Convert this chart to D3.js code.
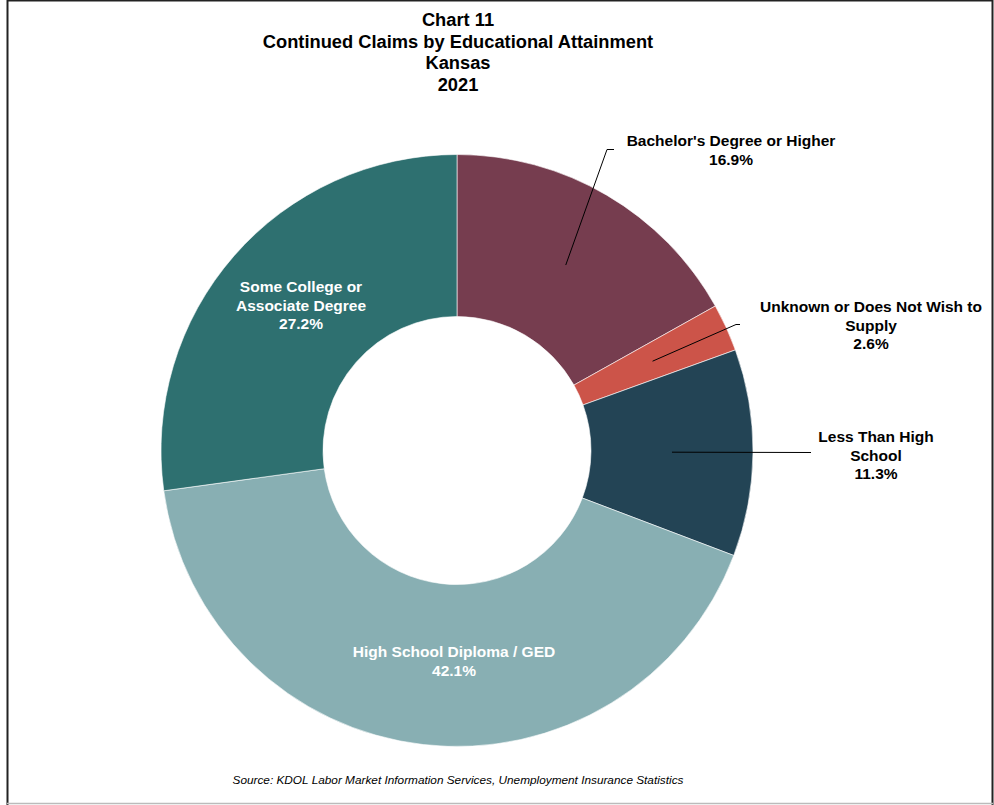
<!DOCTYPE html>
<html>
<head>
<meta charset="utf-8">
<script src="https://cdn.jsdelivr.net/npm/d3@7"></script>
<style>
  html, body { margin: 0; padding: 0; background: #fff; }
  svg { display: block; font-family: "Liberation Sans", Arial, sans-serif; }
</style>
</head>
<body>
<svg id="chart" width="994" height="805"></svg>
<script>
// Continued claims by educational attainment, Kansas 2021 (percent of total)
const categories = [
  "Bachelor's Degree or Higher",
  "Unknown or Does Not Wish to Supply",
  "Less Than High School",
  "High School Diploma / GED",
  "Some College or Associate Degree"
];
const shares = [16.9, 2.6, 11.3, 42.1, 27.2];
const labelLines = [
  ["Bachelor's Degree or Higher"],
  ["Unknown or Does Not Wish to", "Supply"],
  ["Less Than High", "School"],
  ["High School Diploma / GED"],
  ["Some College or", "Associate Degree"]
];
const colors = ["#763D4F", "#CC5449", "#234455", "#88AFB3", "#2E7070"];
const titleLines = ["Chart 11", "Continued Claims by Educational Attainment", "Kansas", "2021"];
const sourceText = "Source: KDOL Labor Market Information Services, Unemployment Insurance Statistics";

const svg = d3.select("#chart");

// frame
svg.append("line").attr("x1", 7).attr("y1", 0.5).attr("x2", 993).attr("y2", 0.5)
  .attr("stroke", "#222").attr("stroke-width", 2);
svg.append("line").attr("x1", 7.5).attr("y1", 0).attr("x2", 7.5).attr("y2", 805)
  .attr("stroke", "#222").attr("stroke-width", 2);
svg.append("line").attr("x1", 992.5).attr("y1", 0).attr("x2", 992.5).attr("y2", 805)
  .attr("stroke", "#222").attr("stroke-width", 2);
svg.append("line").attr("x1", 7).attr("y1", 803.5).attr("x2", 993).attr("y2", 803.5)
  .attr("stroke", "#bbb").attr("stroke-width", 1.5);

// title
svg.append("text")
  .attr("x", 458).attr("y", 26)
  .attr("text-anchor", "middle")
  .style("font-size", "18.3px").style("font-weight", "bold").attr("fill", "#000")
  .selectAll("tspan").data(titleLines).join("tspan")
  .attr("x", 458).attr("dy", (d, i) => i === 0 ? 0 : 21.7)
  .text(d => d);

// donut
const cx = 457, cy = 450.5, outerR = 296, innerR = 134;
const data = categories.map((c, i) => ({ category: c, value: shares[i], i }));
const pie = d3.pie().value(d => d.value).sort(null);
const arcs = pie(data);
const arc = d3.arc().innerRadius(innerR).outerRadius(outerR);

const g = svg.append("g").attr("transform", `translate(${cx},${cy})`);
g.selectAll("path.slice").data(arcs).join("path")
  .attr("class", "slice")
  .attr("d", arc)
  .attr("fill", d => colors[d.data.i])
  .attr("stroke", "#fff").attr("stroke-width", 0.6);

const fmt = v => v.toFixed(1) + "%";
const lineH = 18.7;
const labelSize = "15.5px";

// point on the ring at a given radius and angle (d3 angles measured clockwise from top)
const polar = (r, a) => [Math.sin(a) * r, -Math.cos(a) * r];

// inside labels (white)
const inside = [
  { i: 4, x: -156, y: -158.5 },
  { i: 3, x: -3, y: 206.5 }
];
inside.forEach(o => {
  const lines = labelLines[o.i].concat([fmt(shares[o.i])]);
  const t = g.append("text").attr("text-anchor", "middle")
    .style("font-size", labelSize).style("font-weight", "bold").attr("fill", "#fff");
  t.selectAll("tspan").data(lines).join("tspan")
    .attr("x", o.x).attr("y", (d, k) => o.y + k * lineH).text(d => d);
});

// outside labels with leader lines
const outside = [
  { i: 0, r: 215, tx: 274, ty: -304.5, elbow: [150, -301], end: [157, -301] },
  { i: 1, r: 215, tx: 414, ty: -138.5, elbow: [279, -126], end: [283, -126] },
  { i: 2, r: 215, tx: 419, ty: -8.5, elbow: [354, 2], end: [354, 2] }
];
outside.forEach(o => {
  const a = arcs[o.i];
  const mid = (a.startAngle + a.endAngle) / 2;
  const p = polar(o.r, mid);
  g.append("path")
    .attr("d", d3.line()([p, o.elbow, o.end]))
    .attr("fill", "none").attr("stroke", "#000").attr("stroke-width", 1);
  const lines = labelLines[o.i].concat([fmt(shares[o.i])]);
  const t = g.append("text").attr("text-anchor", "middle")
    .style("font-size", labelSize).style("font-weight", "bold").attr("fill", "#000");
  t.selectAll("tspan").data(lines).join("tspan")
    .attr("x", o.tx).attr("y", (d, k) => o.ty + k * lineH).text(d => d);
});

// source note
svg.append("text")
  .attr("x", 458).attr("y", 784)
  .attr("text-anchor", "middle")
  .style("font-size", "11.8px").style("font-style", "italic").attr("fill", "#000")
  .text(sourceText);
</script>
</body>
</html>
